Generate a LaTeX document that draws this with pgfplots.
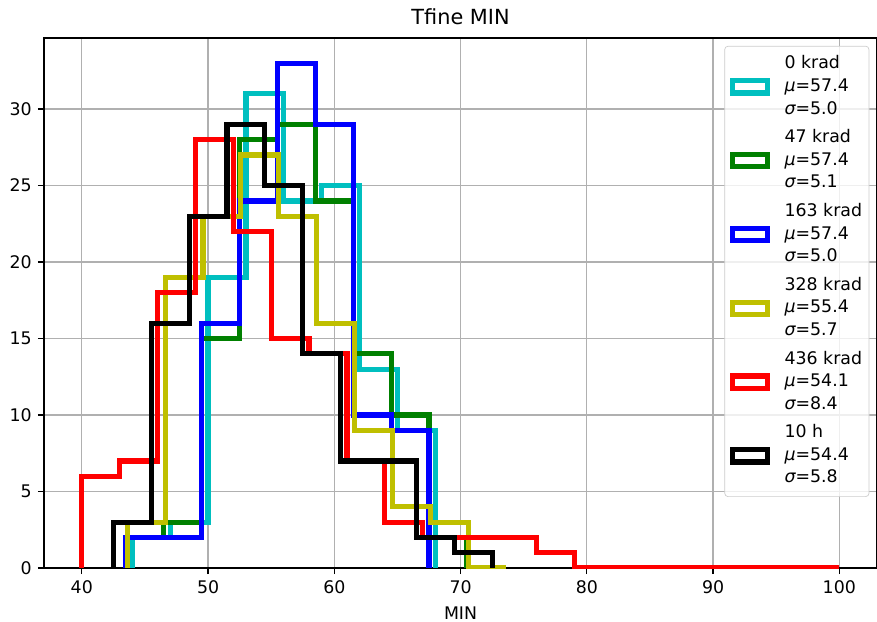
\documentclass[border=0pt]{standalone}
\usepackage{fontspec}
\setmainfont{DejaVu Sans}
\usepackage{pgfplots}
\pgfplotsset{compat=1.18}
\definecolor{mc}{rgb}{0,0.75,0.75}
\definecolor{mg}{rgb}{0,0.5,0}
\definecolor{mb}{rgb}{0,0,1}
\definecolor{my}{rgb}{0.75,0.75,0}
\definecolor{mr}{rgb}{1,0,0}
\definecolor{gridc}{HTML}{B0B0B0}
\newcommand{\lent}[3]{\begin{tabular}{@{}l@{}}#1\\{\itshape μ}=#2\\{\itshape σ}=#3\end{tabular}}
\begin{document}
\begin{tikzpicture}
\begin{axis}[
  at={(25.3pt,31.1pt)}, anchor=south west,
  scale only axis, width=480pt, height=305.3pt,
  xmin=37, xmax=103, ymin=0, ymax=34.65,
  xtick={40,50,...,100}, ytick={0,5,...,30},
  grid=major, major grid style={color=gridc, line width=0.8pt},
  tick align=outside, tick pos=left, major tick length=3.5pt,
  axis line style={line width=0.8pt},
  every tick/.style={black, line width=0.8pt},
  tick label style={font=\fontsize{10}{12}\selectfont},
  /pgf/number format/assume math mode=true,
  title={Tfine MIN},
  title style={font=\fontsize{12}{14}\selectfont, at={(0.5,1)}, anchor=base, yshift=1.5pt},
  xlabel={MIN},
  xlabel style={font=\fontsize{10}{12}\selectfont, at={(0.5,0)}, anchor=base, yshift=-29.5pt},
  legend style={at={(1,1)}, anchor=north east, xshift=-4.5pt, yshift=-4.5pt,
    draw=black!20, rounded corners=2pt, fill=white, fill opacity=0.8, text opacity=1,
    font=\fontsize{10}{13}\selectfont, row sep=1.5pt, inner xsep=3pt, inner ysep=3pt,
    nodes={inner xsep=1pt, inner ysep=1pt, text depth=}},
  legend cell align=left,
  legend image code/.code={\draw[#1, line width=3pt, fill=white, line join=miter, sharp corners] (0pt,-3.5pt) rectangle (20pt,3.5pt);
    \path[draw=none, fill=none] (0pt,0pt) -- (29pt,0pt);},
  every axis plot/.append style={line width=3pt, line join=miter, const plot mark left},
]
\addplot[mc] coordinates {(44,0)(44,2)(47,3)(50,19)(53,31)(56,24)(59,25)(62,13)(65,9)(68,0)};
\addlegendentry{\lent{0 krad}{57.4}{5.0}}
\addplot[mg] coordinates {(43.5,0)(43.5,2)(46.5,3)(49.5,15)(52.5,28)(55.5,29)(58.5,24)(61.5,14)(64.5,10)(67.5,2)(70.5,0)};
\addlegendentry{\lent{47 krad}{57.4}{5.1}}
\addplot[mb] coordinates {(43.5,0)(43.5,2)(46.5,2)(49.5,16)(52.5,24)(55.5,33)(58.5,29)(61.5,10)(64.5,9)(67.5,0)};
\addlegendentry{\lent{163 krad}{57.4}{5.0}}
\addplot[my] coordinates {(43.6,0)(43.6,3)(46.6,19)(49.6,23)(52.6,27)(55.6,23)(58.6,16)(61.6,9)(64.6,4)(67.6,3)(70.6,0)(73.6,0)};
\addlegendentry{\lent{328 krad}{55.4}{5.7}}
\addplot[mr] coordinates {(40,0)(40,6)(43,7)(46,18)(49,28)(52,22)(55,15)(58,14)(61,7)(64,3)(67,2)(70,2)(73,2)(76,1)(79,0)(82,0)(85,0)(88,0)(91,0)(94,0)(97,0)(100,0)};
\addlegendentry{\lent{436 krad}{54.1}{8.4}}
\addplot[black] coordinates {(42.5,0)(42.5,3)(45.5,16)(48.5,23)(51.5,29)(54.5,25)(57.5,14)(60.5,7)(63.5,7)(66.5,2)(69.5,1)(72.5,0)};
\addlegendentry{\lent{10 h}{54.4}{5.8}}
\end{axis}
\pgfresetboundingbox
\path[use as bounding box] (0,0) rectangle (505.2pt,358.3pt);
\end{tikzpicture}
\end{document}
